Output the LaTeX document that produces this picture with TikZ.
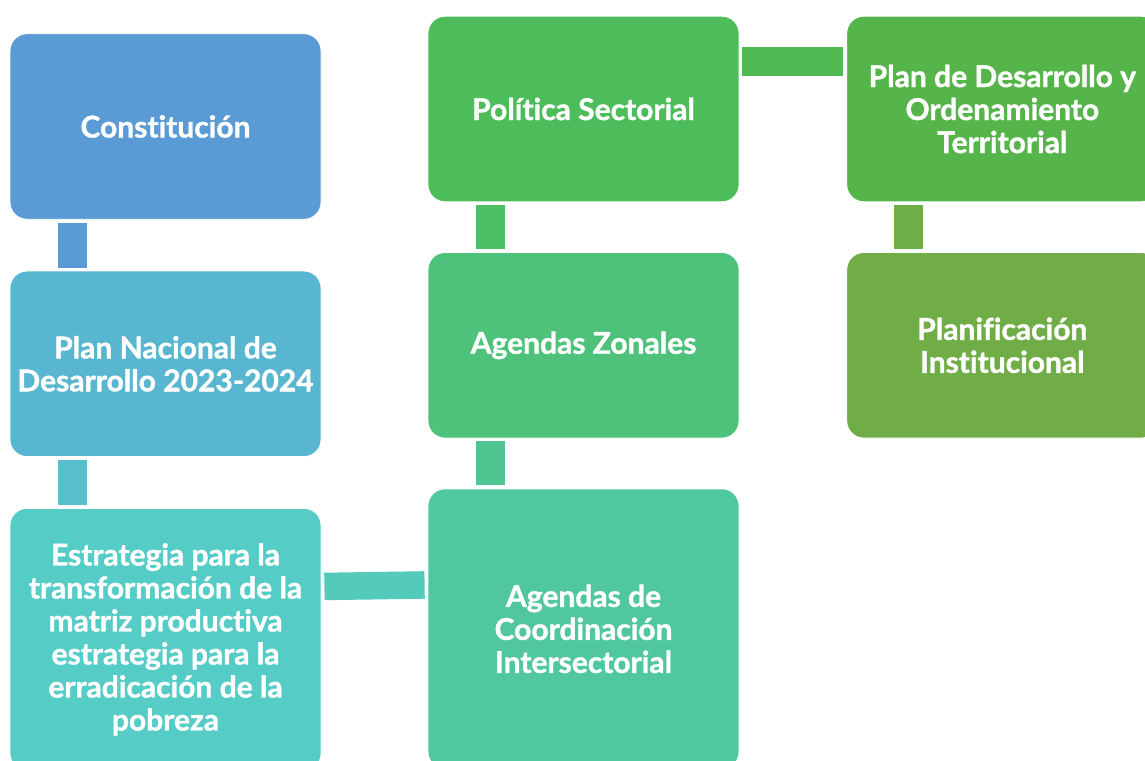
\documentclass[tikz,border=0pt]{standalone}
\usepackage{fontspec}
\setmainfont{Lato}[Ligatures=NoCommon, BoldFeatures={FakeBold=1.2}]
\usetikzlibrary{positioning}

\definecolor{cConst}{HTML}{5B9BD5}
\definecolor{cPlan}{HTML}{58B6D0}
\definecolor{cEstr}{HTML}{55CCC5}
\definecolor{cCoord}{HTML}{50C7A0}
\definecolor{cZonas}{HTML}{4EC27B}
\definecolor{cPol}{HTML}{4CBD5A}
\definecolor{cPdot}{HTML}{56B54A}
\definecolor{cInst}{HTML}{70AD47}

\tikzset{
	stage/.style={rectangle, rounded corners=17pt, minimum width=311pt, minimum height=185.5pt,
		inner sep=0pt, text=white, draw=white, line width=0.8pt, align=center,
		font=\fontsize{30}{33}\selectfont\bfseries},
	link/.style={line width=29pt},
}

\begin{document}
\begin{tikzpicture}[x=1pt, y=-1pt, node distance=51pt]
				\clip (0,0) rectangle (1145,760);
				\useasboundingbox (0,0) rectangle (1145,760);
				
				\node[stage, fill=cConst] (const) at (165.5,126.5) {Constitución};
				\node[stage, fill=cPlan, below=of const] (plan) {Plan Nacional de\\Desarrollo 2023-2024};
				\node[stage, fill=cEstr, below=of plan, minimum height=262pt] (estr) {Estrategia para la\\transformación de la\\matriz productiva\\estrategia para la\\erradicación de la\\pobreza};
				
				\node[stage, fill=cPol] (pol) at (583.5,109) {Política Sectorial};
				\node[stage, fill=cZonas, below=50pt of pol] (zonas) {Agendas Zonales};
				\node[stage, fill=cCoord, below=50pt of zonas, minimum height=280pt] (coord) {Agendas de\\Coordinación\\Intersectorial};
				
				\node[stage, fill=cPdot, right=107pt of pol] (pdot) {Plan de Desarrollo y\\Ordenamiento\\Territorial};
				\node[stage, fill=cInst, below=50pt of pdot] (inst) {Planificación\\Institucional};
				
				\draw[link, cConst] ([xshift=62.5pt,yshift=-3pt]const.south west) -- ([xshift=62.5pt,yshift=3pt]plan.north west);
				\draw[link, cPlan!60!cEstr] ([xshift=62.5pt,yshift=-3pt]plan.south west) -- ([xshift=62.5pt,yshift=3pt]estr.north west);
				\draw[link, line width=27.5pt, cEstr!70!cCoord] ([xshift=3pt,yshift=-78.5pt]estr.north east) -- ([xshift=-3pt,yshift=-96.5pt]coord.north west);
				\draw[link, cCoord!60!cZonas] ([xshift=62.5pt,yshift=3pt]coord.north west) -- ([xshift=62.5pt,yshift=-3pt]zonas.south west);
				\draw[link, cZonas!40!cPol] ([xshift=62.5pt,yshift=3pt]zonas.north west) -- ([xshift=62.5pt,yshift=-3pt]pol.south west);
				\draw[link, cPol!50!cPdot] ([xshift=3pt,yshift=-45.5pt]pol.north east) -- ([xshift=-3pt,yshift=-45.5pt]pdot.north west);
				\draw[link, cInst!90!cPdot] ([xshift=62.5pt,yshift=-3pt]pdot.south west) -- ([xshift=62.5pt,yshift=3pt]inst.north west);
				\end{tikzpicture}
\end{document}
